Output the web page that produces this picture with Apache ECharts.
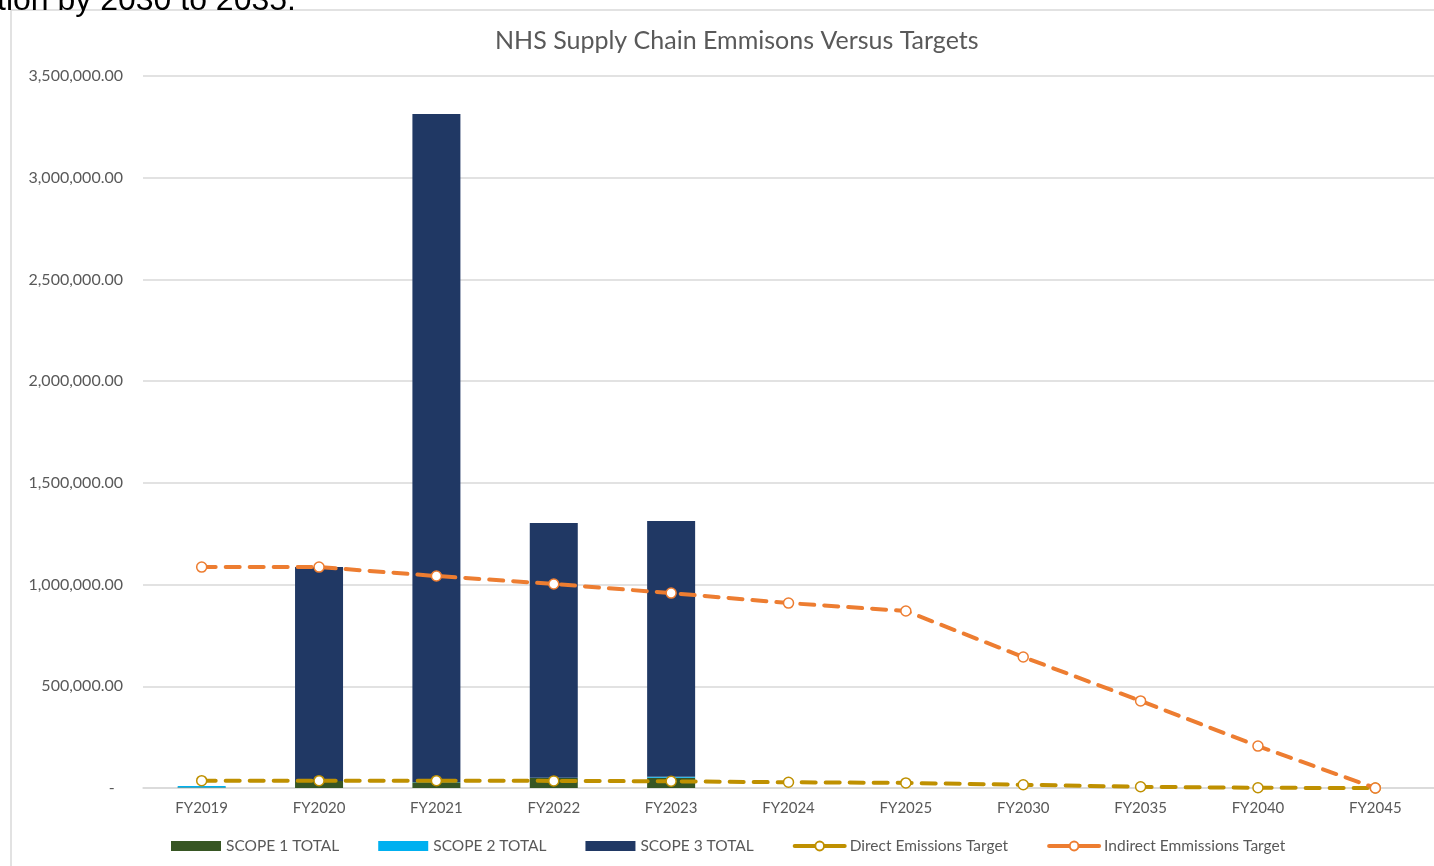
<!DOCTYPE html>
<html>
<head>
<meta charset="utf-8">
<title>NHS Supply Chain Emmisons Versus Targets</title>
<script src="https://cdn.jsdelivr.net/npm/echarts@6/dist/echarts.min.js"></script>
<style>
  html, body { margin: 0; padding: 0; background: #fff; overflow: hidden; }
  #main { width: 1434px; height: 866px; }
</style>
</head>
<body>
<div id="main"></div>
<script>
// values
var categories = ['FY2019', 'FY2020', 'FY2021', 'FY2022', 'FY2023', 'FY2024', 'FY2025', 'FY2030', 'FY2035', 'FY2040', 'FY2045'];
var scope1 = [2000, 34000, 28000, 49000, 50000, null, null, null, null, null, null];
var scope2 = [8000, 1000, 1000, 1000, 5000, null, null, null, null, null, null];
var scope3 = [null, 1051000, 3284000, 1253000, 1258000, null, null, null, null, null, null];
var directTarget = [36000, 36000, 36000, 35000, 33000, 28000, 25000, 16000, 6000, 1000, 0];
var indirectTarget = [1086000, 1086000, 1042000, 1003000, 958000, 909000, 870000, 644000, 428000, 206000, 0];

var font = 'Lato, "Open Sans", sans-serif';
var grey = '#595959';
// bar legend key: band inside an 11px box, so circles in line keys can be bigger
var barIcon = 'path://M0,0 h50 v0 h-50 z M0,0.5 h50 v10 h-50 z M0,11 h50 v0 h-50 z';

var chart = echarts.init(document.getElementById('main'));

function lineSeries(name, data, color) {
  return {
    name: name,
    type: 'line',
    data: data,
    symbol: 'circle',
    symbolSize: 10,
    itemStyle: { color: '#fff', borderColor: color, borderWidth: 1.5 },
    lineStyle: { color: color, width: 4, type: [14, 10], cap: 'round' },
    z: 5
  };
}

var option = {
  animation: false,
  graphic: [
    {
      type: 'rect',
      z: -10,
      shape: { x: 11, y: 10, width: 1500, height: 900 },
      style: { fill: '#fff', stroke: '#d9d9d9', lineWidth: 1.5 }
    },
    {
      type: 'text',
      style: {
        text: 'tion by 2030 to 2035.',
        x: -3, y: 17,
        fill: '#000',
        font: '32px "Liberation Sans", Arial, sans-serif',
        verticalAlign: 'bottom'
      }
    }
  ],
  title: {
    text: 'NHS Supply Chain Emmisons Versus Targets',
    left: 490,
    top: 23,
    textStyle: { color: grey, fontFamily: font, fontSize: 25, fontWeight: 'normal' }
  },
  legend: {
    left: 166,
    top: 833,
    itemGap: 39,
    itemWidth: 50,
    itemHeight: 11,
    textStyle: { color: grey, fontFamily: font, fontSize: 15.5 },
    data: [
      { name: 'SCOPE 1 TOTAL', icon: barIcon },
      { name: 'SCOPE 2 TOTAL', icon: barIcon },
      { name: 'SCOPE 3 TOTAL', icon: barIcon },
      { name: 'Direct Emissions Target', lineStyle: { width: 4, type: 'solid' } },
      { name: 'Indirect Emmissions Target', lineStyle: { width: 4, type: 'solid' } }
    ]
  },
  grid: { left: 143, right: -3, top: 76, bottom: 78 },
  xAxis: {
    type: 'category',
    data: categories,
    axisTick: { show: false },
    axisLine: { lineStyle: { color: '#d9d9d9', width: 1.5 } },
    axisLabel: { color: grey, fontFamily: font, fontSize: 15, margin: 13 }
  },
  yAxis: {
    type: 'value',
    min: 0,
    max: 3500000,
    interval: 500000,
    axisLine: { show: false },
    axisTick: { show: false },
    splitLine: { lineStyle: { color: '#d9d9d9', width: 1.5 } },
    axisLabel: {
      color: grey, fontFamily: font, fontSize: 16, margin: 20,
      formatter: function (v) {
        if (v === 0) return '-  ';
        return v.toLocaleString('en-US', { minimumFractionDigits: 2, maximumFractionDigits: 2 });
      }
    }
  },
  series: [
    { name: 'SCOPE 1 TOTAL', type: 'bar', stack: 'total', barWidth: 48, data: scope1, itemStyle: { color: '#375623' } },
    { name: 'SCOPE 2 TOTAL', type: 'bar', stack: 'total', barWidth: 48, data: scope2, itemStyle: { color: '#00b0f0' } },
    { name: 'SCOPE 3 TOTAL', type: 'bar', stack: 'total', barWidth: 48, data: scope3, itemStyle: { color: '#203864' } },
    lineSeries('Direct Emissions Target', directTarget, '#bf9000'),
    lineSeries('Indirect Emmissions Target', indirectTarget, '#ed7d31')
  ]
};

chart.setOption(option);
</script>
</body>
</html>
